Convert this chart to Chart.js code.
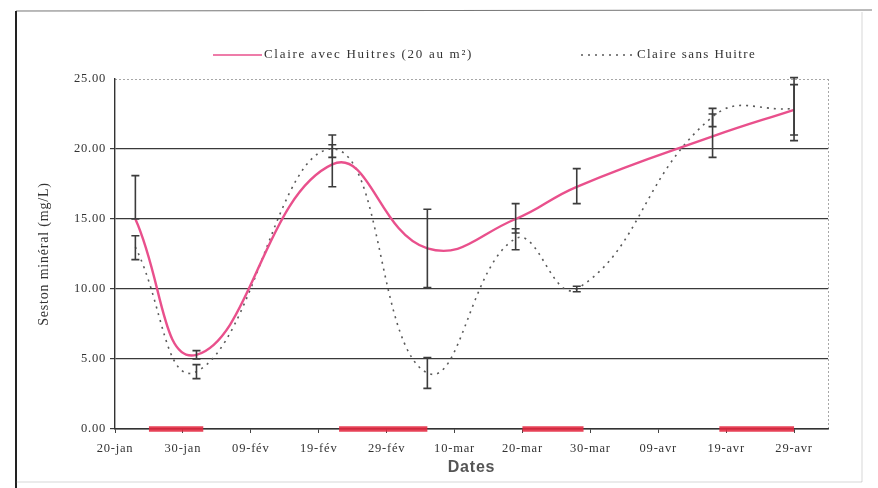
<!DOCTYPE html>
<html>
<head>
<meta charset="utf-8">
<script src="https://cdn.jsdelivr.net/npm/chart.js@4/dist/chart.umd.min.js"></script>
<style>
  html, body { margin: 0; padding: 0; background: #ffffff; }
  #wrap { width: 878px; height: 488px; position: relative; }
</style>
</head>
<body>
<div id="wrap"><canvas id="c" width="878" height="488"></canvas></div>
<script>
// Sampling dates (year 2000, leap year) and axis origin
const axisStart = '2000-01-20';
const sampleDates = ['2000-01-23', '2000-02-01', '2000-02-21', '2000-03-06', '2000-03-19', '2000-03-28', '2000-04-17', '2000-04-29'];

// Seston minéral (mg/L) – claire avec huîtres
const avecHuitres = [15.0, 5.3, 18.9, 12.9, 15.0, 17.3, 20.9, 22.8];
const avecLow     = [15.0, 5.0, 17.3, 10.1, 14.0, 16.1, 19.4, 20.6];
const avecHigh    = [18.1, 5.6, 20.3, 15.7, 16.1, 18.6, 22.5, 25.1];

// Seston minéral (mg/L) – claire sans huître
const sansHuitre = [13.0, 4.1, 20.0, 4.0, 13.6, 10.0, 22.3, 22.9];
const sansLow    = [12.1, 3.6, 19.4, 2.9, 12.8, 9.8, 21.6, 21.0];
const sansHigh   = [13.8, 4.6, 21.0, 5.1, 14.3, 10.2, 22.9, 24.6];

// Periods marked along the date axis
const periodStart = ['2000-01-25', '2000-02-22', '2000-03-20', '2000-04-18'];
const periodEnd   = ['2000-02-02', '2000-03-06', '2000-03-29', '2000-04-29'];

// Axis labels
const tickLabels = ['20-jan', '30-jan', '09-fév', '19-fév', '29-fév', '10-mar', '20-mar', '30-mar', '09-avr', '19-avr', '29-avr'];
const yTicks = [0, 5, 10, 15, 20, 25];
const seriesNames = ['Claire avec Huitres (20 au m²)', 'Claire sans Huitre'];

const DAY = 86400000;
const dayOf = s => Math.round((Date.parse(s) - Date.parse(axisStart)) / DAY);
const xs = sampleDates.map(dayOf);

const pts = vals => vals.map((v, i) => ({ x: xs[i], y: v }));
const periodPts = [];
periodStart.forEach((s, i) => {
  const a = dayOf(s), b = dayOf(periodEnd[i]);
  periodPts.push({ x: a, y: 0 }, { x: b, y: 0 }, { x: b + 0.5, y: null });
});

const PINK = '#e9508c';
const DOT = '#5a5a5a';
const SERIF = '"Liberation Serif", "DejaVu Serif", serif';

// Error bars, outer frame, plot border and legend
const decor = {
  id: 'decor',
  beforeDraw(chart) {
    const ctx = chart.ctx;
    ctx.save();
    ctx.fillStyle = '#ffffff';
    ctx.fillRect(0, 0, chart.width, chart.height);
    ctx.restore();
    // slightly spaced lettering for the axis texts
    ctx.letterSpacing = '0.8px';
  },
  afterDatasetsDraw(chart) {
    const ctx = chart.ctx, xS = chart.scales.x, yS = chart.scales.y;
    const bars = [[avecLow, avecHigh], [sansLow, sansHigh]];
    ctx.save();
    ctx.strokeStyle = '#3c3c3c';
    ctx.lineWidth = 1.6;
    bars.forEach(([lo, hi]) => {
      xs.forEach((d, i) => {
        const x = xS.getPixelForValue(d);
        const y1 = yS.getPixelForValue(lo[i]);
        const y2 = yS.getPixelForValue(hi[i]);
        ctx.beginPath();
        ctx.moveTo(x, y1); ctx.lineTo(x, y2);
        ctx.moveTo(x - 4, y1); ctx.lineTo(x + 4, y1);
        ctx.moveTo(x - 4, y2); ctx.lineTo(x + 4, y2);
        ctx.stroke();
      });
    });
    ctx.restore();
  },
  afterDraw(chart) {
    const ctx = chart.ctx, a = chart.chartArea;
    ctx.save();
    // plot area top and right edges
    ctx.strokeStyle = 'rgba(60,60,60,0.45)';
    ctx.lineWidth = 1;
    ctx.setLineDash([2, 2]);
    ctx.beginPath();
    ctx.moveTo(a.left, a.top + 0.5); ctx.lineTo(a.right, a.top + 0.5);
    ctx.moveTo(a.right + 0.5, a.top); ctx.lineTo(a.right + 0.5, a.bottom);
    ctx.stroke();
    ctx.setLineDash([]);
    // outer frame
    ctx.strokeStyle = '#777';
    ctx.lineWidth = 1.2;
    ctx.beginPath();
    ctx.moveTo(16, 11); ctx.lineTo(872, 10);
    ctx.stroke();
    ctx.strokeStyle = '#222';
    ctx.lineWidth = 2;
    ctx.beginPath();
    ctx.moveTo(16, 11); ctx.lineTo(16, 488);
    ctx.stroke();
    ctx.strokeStyle = 'rgba(120,120,120,0.3)';
    ctx.lineWidth = 1;
    ctx.beginPath();
    ctx.moveTo(862, 12); ctx.lineTo(862, 482);
    ctx.moveTo(16, 482); ctx.lineTo(862, 482);
    ctx.stroke();

    // legend
    const ly = 55;
    ctx.font = '13px ' + SERIF;
    ctx.letterSpacing = '1.7px';
    ctx.fillStyle = '#333';
    ctx.textBaseline = 'middle';
    ctx.textAlign = 'left';
    ctx.strokeStyle = PINK;
    ctx.lineWidth = 1.6;
    ctx.beginPath(); ctx.moveTo(213, ly); ctx.lineTo(262, ly); ctx.stroke();
    ctx.fillText(seriesNames[0], 264, ly);
    ctx.strokeStyle = DOT;
    ctx.lineWidth = 1.4;
    ctx.setLineDash([2, 5]);
    ctx.beginPath(); ctx.moveTo(581, ly); ctx.lineTo(634, ly); ctx.stroke();
    ctx.setLineDash([]);
    ctx.letterSpacing = '1.4px';
    ctx.fillText(seriesNames[1], 637, ly);
    ctx.restore();
  }
};

new Chart(document.getElementById('c'), {
  type: 'line',
  data: {
    datasets: [
      {
        label: seriesNames[0],
        data: pts(avecHuitres),
        borderColor: PINK,
        borderWidth: 2.4,
        tension: 0.45,
        pointRadius: 0,
        fill: false
      },
      {
        label: seriesNames[1],
        data: pts(sansHuitre),
        borderColor: DOT,
        borderWidth: 1.6,
        borderDash: [2, 5],
        tension: 0.45,
        pointRadius: 0,
        fill: false
      },
      {
        label: 'périodes',
        data: periodPts,
        borderColor: 'rgba(228,40,64,0.88)',
        borderWidth: 5.5,
        tension: 0,
        pointRadius: 0,
        spanGaps: false,
        clip: false,
        fill: false
      }
    ]
  },
  options: {
    responsive: false,
    animation: false,
    devicePixelRatio: 1,
    layout: { padding: { left: 36, right: 50, top: 79, bottom: 8 } },
    plugins: {
      legend: { display: false },
      tooltip: { enabled: false }
    },
    scales: {
      x: {
        type: 'linear',
        min: 0,
        max: 105,
        afterBuildTicks(scale) {
          scale.ticks = tickLabels.map((t, i) => ({ value: i * 10 }));
        },
        afterFit(scale) { scale.height = 51; },
        ticks: {
          autoSkip: false,
          maxRotation: 0,
          padding: 8,
          color: '#333',
          font: { family: SERIF, size: 12.5 },
          callback: (v) => tickLabels[Math.round(v / 10)]
        },
        grid: {
          drawOnChartArea: false,
          drawTicks: true,
          tickLength: 4,
          color: '#444'
        },
        border: { display: true, color: '#333', width: 1.4 },
        title: {
          display: true,
          text: 'Dates',
          color: '#555',
          font: { family: '"Liberation Sans", Arial, sans-serif', size: 16, weight: 'bold' },
          padding: { top: 0, bottom: 3 }
        }
      },
      y: {
        min: 0,
        max: 25,
        afterBuildTicks(scale) {
          scale.ticks = yTicks.map(v => ({ value: v }));
        },
        afterFit(scale) { scale.width = 79; },
        ticks: {
          padding: 4,
          color: '#333',
          font: { family: SERIF, size: 12.5 },
          callback: (v) => Number(v).toFixed(2)
        },
        grid: {
          color: (c) => (c.tick && c.tick.value === 25) ? 'rgba(0,0,0,0)' : '#3a3a3a',
          lineWidth: 1.2,
          drawTicks: true,
          tickLength: 5
        },
        border: { display: true, color: '#333', width: 1.4 },
        title: {
          display: true,
          text: 'Seston minéral (mg/L)',
          color: '#333',
          font: { family: SERIF, size: 14 },
          padding: { top: 0, bottom: 3 }
        }
      }
    }
  },
  plugins: [decor]
});
</script>
</body>
</html>
